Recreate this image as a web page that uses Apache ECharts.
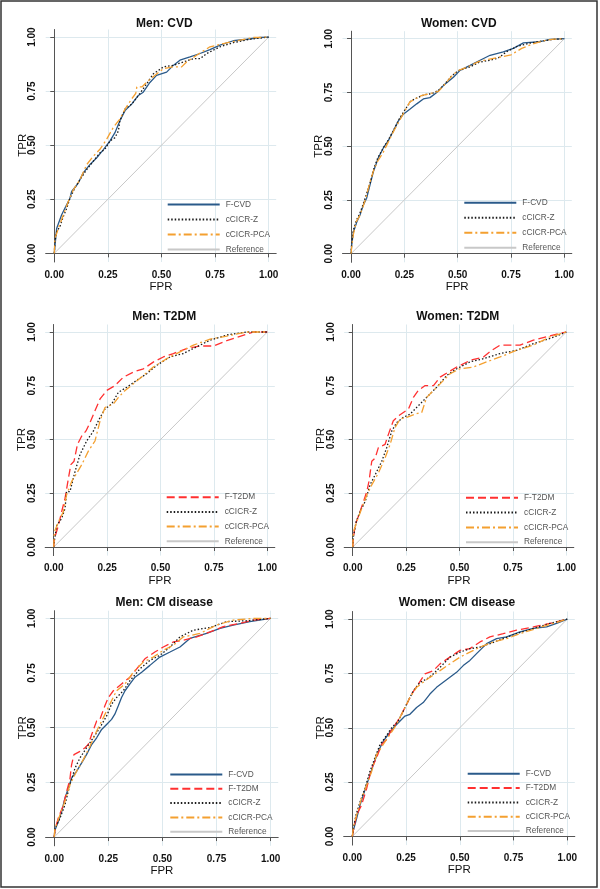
<!DOCTYPE html>
<html><head><meta charset="utf-8">
<script src="https://cdn.jsdelivr.net/npm/echarts@6/dist/echarts.min.js"></script>
<style>html,body{margin:0;padding:0;background:#fff}#c{width:600px;height:889px}</style>
</head><body><div id="c"></div>
<script>
// ---- data ----
const tickValues = [0, 0.25, 0.5, 0.75, 1];
const panelTitles = ['Men: CVD', 'Women: CVD', 'Men: T2DM', 'Women: T2DM', 'Men: CM disease', 'Women: CM disease'];
const xAxisTitle = 'FPR';
const yAxisTitle = 'TPR';
const referenceLine = [[0, 0], [1, 1]];

const menCvd_FCVD = [[0,0],[0.011,0.115],[0.034,0.177],[0.05,0.21],[0.073,0.255],[0.081,0.286],[0.112,0.325],[0.135,0.372],[0.166,0.41],[0.198,0.442],[0.229,0.48],[0.26,0.52],[0.283,0.558],[0.306,0.613],[0.33,0.66],[0.361,0.69],[0.392,0.73],[0.415,0.745],[0.446,0.79],[0.477,0.823],[0.524,0.838],[0.555,0.869],[0.586,0.893],[0.633,0.908],[0.68,0.924],[0.726,0.942],[0.773,0.963],[0.835,0.983],[0.897,0.99],[0.96,0.998],[1,1]];
const menCvd_Z = [[0,0],[0.003,0.053],[0.011,0.1],[0.026,0.123],[0.042,0.17],[0.058,0.208],[0.073,0.255],[0.096,0.302],[0.12,0.341],[0.151,0.387],[0.182,0.426],[0.213,0.465],[0.236,0.481],[0.26,0.52],[0.283,0.535],[0.299,0.566],[0.306,0.613],[0.33,0.667],[0.361,0.69],[0.392,0.729],[0.431,0.784],[0.462,0.83],[0.509,0.862],[0.555,0.869],[0.602,0.885],[0.649,0.9],[0.68,0.9],[0.711,0.924],[0.773,0.955],[0.835,0.974],[0.913,0.99],[1,1]];
const menCvd_PCA = [[0,0],[0.003,0.068],[0.019,0.115],[0.042,0.177],[0.065,0.239],[0.089,0.294],[0.12,0.341],[0.151,0.41],[0.182,0.449],[0.213,0.481],[0.244,0.527],[0.275,0.582],[0.306,0.621],[0.33,0.667],[0.361,0.714],[0.38,0.74],[0.385,0.77],[0.41,0.77],[0.431,0.792],[0.47,0.823],[0.509,0.854],[0.555,0.862],[0.594,0.862],[0.617,0.885],[0.664,0.916],[0.726,0.955],[0.789,0.97],[0.851,0.983],[0.928,0.998],[1,1]];

const womenCvd_FCVD = [[0,0],[0.003,0.039],[0.011,0.10],[0.027,0.147],[0.042,0.18],[0.058,0.227],[0.073,0.258],[0.089,0.32],[0.105,0.382],[0.128,0.446],[0.152,0.493],[0.175,0.526],[0.198,0.571],[0.222,0.618],[0.245,0.649],[0.277,0.673],[0.308,0.697],[0.339,0.72],[0.37,0.726],[0.402,0.75],[0.433,0.782],[0.48,0.821],[0.511,0.853],[0.558,0.876],[0.605,0.9],[0.652,0.923],[0.714,0.939],[0.761,0.955],[0.808,0.981],[0.886,0.986],[0.933,0.997],[1,1]];
const womenCvd_Z = [[0,0],[0.003,0.05],[0.011,0.11],[0.025,0.155],[0.04,0.185],[0.055,0.225],[0.07,0.27],[0.088,0.325],[0.105,0.39],[0.125,0.445],[0.15,0.49],[0.175,0.53],[0.2,0.575],[0.225,0.625],[0.25,0.665],[0.28,0.71],[0.31,0.725],[0.345,0.74],[0.38,0.745],[0.41,0.76],[0.44,0.79],[0.47,0.825],[0.5,0.85],[0.53,0.86],[0.56,0.87],[0.6,0.89],[0.65,0.9],[0.69,0.91],[0.73,0.94],[0.78,0.965],[0.84,0.98],[0.9,0.99],[0.95,0.997],[1,1]];
const womenCvd_PCA = [[0,0],[0.003,0.03],[0.011,0.09],[0.025,0.15],[0.04,0.175],[0.055,0.215],[0.07,0.26],[0.088,0.33],[0.105,0.385],[0.125,0.43],[0.15,0.47],[0.175,0.52],[0.2,0.57],[0.225,0.615],[0.25,0.66],[0.275,0.705],[0.3,0.72],[0.33,0.735],[0.37,0.745],[0.41,0.755],[0.45,0.8],[0.48,0.835],[0.51,0.855],[0.55,0.87],[0.6,0.895],[0.65,0.905],[0.7,0.915],[0.75,0.925],[0.8,0.955],[0.85,0.975],[0.9,0.99],[0.95,0.998],[1,1]];

const menT2dm_FT2DM = [[0,0],[0.003,0.039],[0.022,0.10],[0.037,0.164],[0.053,0.227],[0.069,0.321],[0.08,0.383],[0.095,0.399],[0.111,0.477],[0.131,0.516],[0.151,0.54],[0.17,0.579],[0.193,0.634],[0.217,0.689],[0.248,0.728],[0.287,0.751],[0.326,0.79],[0.373,0.814],[0.42,0.829],[0.466,0.86],[0.513,0.884],[0.56,0.9],[0.622,0.923],[0.685,0.935],[0.747,0.935],[0.81,0.96],[0.872,0.98],[0.934,1.0],[1,1]];
const menT2dm_Z = [[0,0],[0.003,0.03],[0.014,0.10],[0.037,0.133],[0.053,0.18],[0.06,0.258],[0.076,0.258],[0.1,0.352],[0.123,0.43],[0.154,0.493],[0.186,0.54],[0.217,0.603],[0.24,0.642],[0.271,0.665],[0.303,0.72],[0.342,0.743],[0.388,0.775],[0.435,0.806],[0.482,0.845],[0.544,0.884],[0.607,0.9],[0.669,0.931],[0.732,0.962],[0.81,0.986],[0.903,1.0],[1,1]];
const menT2dm_PCA = [[0,0],[0.003,0.07],[0.022,0.117],[0.045,0.164],[0.06,0.242],[0.084,0.305],[0.108,0.344],[0.131,0.383],[0.162,0.446],[0.193,0.493],[0.217,0.587],[0.24,0.649],[0.279,0.665],[0.303,0.696],[0.334,0.728],[0.373,0.759],[0.42,0.798],[0.466,0.837],[0.529,0.876],[0.591,0.908],[0.654,0.939],[0.732,0.967],[0.81,0.981],[0.903,1],[1,1]];

const womenT2dm_FT2DM = [[0,0],[0.003,0.039],[0.011,0.10],[0.034,0.164],[0.05,0.211],[0.066,0.258],[0.076,0.305],[0.089,0.399],[0.105,0.414],[0.12,0.462],[0.151,0.477],[0.167,0.524],[0.19,0.587],[0.214,0.61],[0.237,0.626],[0.261,0.642],[0.284,0.696],[0.307,0.728],[0.339,0.751],[0.378,0.751],[0.409,0.79],[0.448,0.814],[0.487,0.837],[0.549,0.868],[0.612,0.884],[0.651,0.915],[0.69,0.939],[0.783,0.939],[0.846,0.962],[0.908,0.978],[0.97,0.994],[1,1]];
const womenT2dm_Z = [[0,0],[0.003,0.047],[0.016,0.117],[0.034,0.164],[0.058,0.211],[0.081,0.289],[0.105,0.336],[0.136,0.399],[0.159,0.462],[0.183,0.54],[0.206,0.579],[0.237,0.603],[0.268,0.618],[0.3,0.65],[0.331,0.681],[0.362,0.712],[0.393,0.743],[0.44,0.798],[0.487,0.829],[0.549,0.861],[0.612,0.876],[0.69,0.9],[0.768,0.915],[0.846,0.946],[0.924,0.97],[1,1]];
const womenT2dm_PCA = [[0,0],[0.003,0.07],[0.019,0.117],[0.042,0.18],[0.066,0.242],[0.089,0.289],[0.12,0.344],[0.151,0.414],[0.175,0.477],[0.198,0.556],[0.222,0.595],[0.253,0.603],[0.292,0.618],[0.323,0.626],[0.346,0.696],[0.378,0.728],[0.409,0.759],[0.456,0.806],[0.502,0.829],[0.565,0.837],[0.627,0.861],[0.69,0.884],[0.768,0.915],[0.846,0.939],[0.924,0.978],[1,1]];

const menCm_FCVD = [[0,0],[0.003,0.031],[0.018,0.069],[0.034,0.115],[0.049,0.177],[0.065,0.223],[0.08,0.269],[0.103,0.3],[0.126,0.338],[0.149,0.377],[0.173,0.423],[0.196,0.454],[0.219,0.492],[0.242,0.515],[0.265,0.538],[0.28,0.562],[0.296,0.6],[0.311,0.638],[0.327,0.669],[0.35,0.7],[0.373,0.731],[0.404,0.754],[0.442,0.785],[0.488,0.823],[0.535,0.846],[0.581,0.869],[0.627,0.908],[0.704,0.931],[0.766,0.954],[0.827,0.969],[0.904,0.985],[1,1]];
const menCm_FT2DM = [[0,0],[0.003,0.031],[0.018,0.085],[0.042,0.146],[0.057,0.208],[0.072,0.262],[0.08,0.33],[0.091,0.377],[0.119,0.392],[0.142,0.408],[0.157,0.423],[0.173,0.469],[0.196,0.531],[0.211,0.538],[0.234,0.6],[0.25,0.638],[0.273,0.669],[0.311,0.7],[0.35,0.731],[0.381,0.769],[0.419,0.815],[0.465,0.846],[0.504,0.869],[0.55,0.892],[0.596,0.9],[0.658,0.915],[0.72,0.938],[0.781,0.962],[0.858,0.977],[0.92,0.992],[1,1]];
const menCm_Z = [[0,0],[0.003,0.038],[0.026,0.085],[0.049,0.146],[0.072,0.238],[0.096,0.315],[0.119,0.362],[0.149,0.408],[0.18,0.454],[0.211,0.5],[0.242,0.554],[0.265,0.608],[0.288,0.638],[0.319,0.669],[0.35,0.715],[0.396,0.769],[0.442,0.808],[0.488,0.831],[0.535,0.869],[0.581,0.915],[0.643,0.946],[0.72,0.958],[0.797,0.985],[0.889,0.989],[1,1]];
const menCm_PCA = [[0,0],[0.003,0.038],[0.026,0.1],[0.049,0.162],[0.072,0.238],[0.103,0.3],[0.134,0.354],[0.165,0.415],[0.196,0.485],[0.227,0.546],[0.257,0.608],[0.288,0.669],[0.327,0.7],[0.365,0.754],[0.411,0.8],[0.458,0.823],[0.504,0.854],[0.55,0.877],[0.596,0.915],[0.673,0.931],[0.75,0.969],[0.827,0.992],[0.92,1],[1,1]];

const womenCm_FCVD = [[0,0],[0.005,0.028],[0.02,0.082],[0.036,0.144],[0.051,0.19],[0.067,0.237],[0.082,0.283],[0.098,0.33],[0.121,0.392],[0.144,0.438],[0.167,0.469],[0.191,0.5],[0.222,0.531],[0.245,0.554],[0.268,0.562],[0.299,0.593],[0.33,0.616],[0.361,0.655],[0.392,0.686],[0.423,0.709],[0.454,0.732],[0.485,0.755],[0.516,0.786],[0.547,0.81],[0.578,0.841],[0.625,0.887],[0.671,0.91],[0.718,0.918],[0.78,0.941],[0.842,0.957],[0.904,0.964],[0.95,0.98],[1,1]];
const womenCm_FT2DM = [[0,0],[0.005,0.028],[0.02,0.098],[0.043,0.144],[0.067,0.221],[0.09,0.314],[0.113,0.361],[0.136,0.423],[0.16,0.446],[0.183,0.492],[0.206,0.523],[0.229,0.562],[0.253,0.608],[0.276,0.655],[0.307,0.701],[0.338,0.748],[0.377,0.763],[0.408,0.794],[0.454,0.825],[0.501,0.856],[0.547,0.864],[0.594,0.895],[0.64,0.918],[0.702,0.933],[0.764,0.949],[0.842,0.964],[0.919,0.98],[1,1]];
const womenCm_Z = [[0,0],[0.005,0.036],[0.017,0.098],[0.036,0.159],[0.059,0.221],[0.082,0.299],[0.105,0.361],[0.129,0.423],[0.152,0.454],[0.183,0.5],[0.214,0.531],[0.237,0.577],[0.26,0.624],[0.284,0.67],[0.315,0.709],[0.346,0.724],[0.377,0.748],[0.416,0.786],[0.454,0.825],[0.501,0.848],[0.547,0.864],[0.594,0.871],[0.64,0.887],[0.702,0.91],[0.764,0.933],[0.842,0.957],[0.919,0.98],[1,1]];
const womenCm_PCA = [[0,0],[0.005,0.043],[0.02,0.098],[0.043,0.175],[0.067,0.237],[0.09,0.299],[0.113,0.376],[0.144,0.423],[0.175,0.469],[0.206,0.515],[0.237,0.577],[0.268,0.639],[0.299,0.686],[0.33,0.709],[0.361,0.732],[0.408,0.763],[0.454,0.794],[0.501,0.825],[0.547,0.848],[0.594,0.871],[0.656,0.895],[0.718,0.91],[0.78,0.933],[0.857,0.957],[0.935,0.98],[1,1]];

// ---- panel composition ----
const panels = [
  {'F-CVD': menCvd_FCVD, 'cCICR-Z': menCvd_Z, 'cCICR-PCA': menCvd_PCA},
  {'F-CVD': womenCvd_FCVD, 'cCICR-Z': womenCvd_Z, 'cCICR-PCA': womenCvd_PCA},
  {'F-T2DM': menT2dm_FT2DM, 'cCICR-Z': menT2dm_Z, 'cCICR-PCA': menT2dm_PCA},
  {'F-T2DM': womenT2dm_FT2DM, 'cCICR-Z': womenT2dm_Z, 'cCICR-PCA': womenT2dm_PCA},
  {'F-CVD': menCm_FCVD, 'F-T2DM': menCm_FT2DM, 'cCICR-Z': menCm_Z, 'cCICR-PCA': menCm_PCA},
  {'F-CVD': womenCm_FCVD, 'F-T2DM': womenCm_FT2DM, 'cCICR-Z': womenCm_Z, 'cCICR-PCA': womenCm_PCA}
];

// ---- layout & styles ----
const AX_MIN = -0.04, AX_MAX = 1.035;
const layout = [
  {grid: [45.7, 29.5, 230.5, 232.5], title: [164.3, 24], legend: [166.7, 200.5, 7]},
  {grid: [342.5, 31.2, 229.3, 231.1], title: [458.8, 24], legend: [463.3, 198.8, 7]},
  {grid: [45.2, 324.5, 229.6, 231.1], title: [164.2, 316.7], legend: [165.7, 493.2, 6.7]},
  {grid: [344.2, 324.5, 229.6, 231.1], title: [457.8, 316.7], legend: [465, 493.8, 6.8]},
  {grid: [45.6, 610.7, 232.6, 235.1], title: [164.2, 602.7], legend: [169.3, 770.5, 6.3]},
  {grid: [343.7, 611.5, 231.1, 233.6], title: [457, 602.7], legend: [466.7, 769.8, 6.3]}
];
const styles = {
  'F-CVD': {color: '#2a5a8a', type: 'solid', width: 1.3},
  'F-T2DM': {color: '#ff3030', type: [8, 4], width: 1.3},
  'cCICR-Z': {color: '#1a1a1a', type: [1.5, 2], width: 1.3},
  'cCICR-PCA': {color: '#f4a030', type: [8, 3, 2, 3], width: 1.3},
  'Reference': {color: '#c8c8c8', type: 'solid', width: 1}
};
const FONT = '"Liberation Sans", Arial, sans-serif';
const axisCol = '#555';
const gridCol = '#dde9ee';

const grid = [], xAxis = [], yAxis = [], series = [], legend = [], graphic = [];
panels.forEach((p, i) => {
  const L = layout[i];
  const [gl, gt, gw, gh] = L.grid;
  grid.push({left: gl, top: gt, width: gw, height: gh});
  const common = {
    type: 'value', gridIndex: i, min: AX_MIN, max: AX_MAX,
    axisLine: {show: true, lineStyle: {color: axisCol, width: 1}},
    axisTick: {show: true, length: 4, customValues: tickValues, lineStyle: {color: axisCol}},
    axisLabel: {customValues: tickValues, formatter: v => v.toFixed(2), margin: 8,
      fontSize: 10, fontWeight: 'bold', color: '#111', fontFamily: FONT},
    splitLine: {show: true, lineStyle: {color: gridCol, width: 1}}
  };
  xAxis.push(Object.assign({}, common, {name: xAxisTitle, nameLocation: 'middle', nameGap: 17.5, position: 'bottom',
    nameTextStyle: {fontSize: 11.5, color: '#111', fontFamily: FONT}}));
  yAxis.push(Object.assign({}, common, {position: 'left',
    axisLabel: Object.assign({}, common.axisLabel, {rotate: 90})}));
  series.push({
    name: 'Reference', type: 'line', xAxisIndex: i, yAxisIndex: i, data: referenceLine,
    symbol: 'none', silent: true, z: 1,
    lineStyle: {color: styles.Reference.color, width: styles.Reference.width, type: styles.Reference.type},
    itemStyle: {color: styles.Reference.color, opacity: 0}
  });
  const names = Object.keys(p);
  names.forEach((n, k) => {
    series.push({
      name: n, type: 'line', xAxisIndex: i, yAxisIndex: i, data: p[n],
      symbol: 'none', silent: true, z: 2 + k,
      lineStyle: {color: styles[n].color, width: styles[n].width, type: styles[n].type},
      itemStyle: {color: styles[n].color, opacity: 0}
    });
  });
  legend.push({
    data: names.concat(['Reference']), orient: 'vertical', left: L.legend[0], top: L.legend[1],
    itemWidth: 52, itemHeight: 10, itemGap: L.legend[2], padding: 0, selectedMode: false,
    itemStyle: {opacity: 0, borderWidth: 0},
    textStyle: {fontSize: 8.3, color: '#555', fontFamily: FONT, padding: [0, 0, 0, 1]}
  });
  graphic.push({
    type: 'text', x: L.title[0], y: L.title[1],
    style: {text: panelTitles[i], fill: '#111', font: 'bold 12px ' + FONT, textAlign: 'center', textVerticalAlign: 'middle'}
  });
  // rotated y-axis title, centred on the 0.50 level of the axis
  graphic.push({
    type: 'text', x: gl - 23.2, y: gt + gh * (AX_MAX - 0.5) / (AX_MAX - AX_MIN), rotation: Math.PI / 2,
    style: {text: yAxisTitle, fill: '#111', font: '11.5px ' + FONT, textAlign: 'center', textVerticalAlign: 'middle'}
  });
});
graphic.push({type: 'rect', shape: {x: 1, y: 1, width: 596, height: 886},
  style: {fill: 'none', stroke: '#333', lineWidth: 1.5}, silent: true});

const chart = echarts.init(document.getElementById('c'), null, {renderer: 'canvas'});
chart.setOption({animation: false, backgroundColor: '#fff', grid, xAxis, yAxis, series, legend, graphic});
</script></body></html>
